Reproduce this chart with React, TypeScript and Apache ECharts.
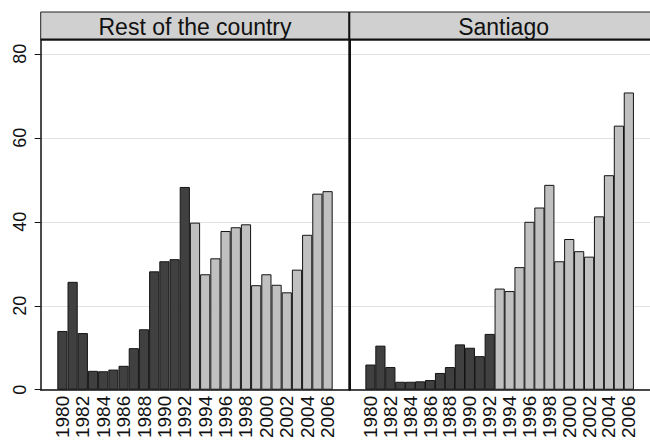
import React, { useEffect, useRef } from "react";
import * as echarts from "echarts";

const years = [1980, 1981, 1982, 1983, 1984, 1985, 1986, 1987, 1988, 1989, 1990, 1991, 1992, 1993, 1994, 1995, 1996, 1997, 1998, 1999, 2000, 2001, 2002, 2003, 2004, 2005, 2006];
const restOfCountry = [14.0, 25.7, 13.5, 4.5, 4.4, 4.8, 5.7, 9.9, 14.4, 28.2, 30.6, 31.1, 48.3, 39.8, 27.5, 31.3, 37.8, 38.7, 39.4, 24.9, 27.5, 25.0, 23.2, 28.6, 36.9, 46.7, 47.3];
const santiago = [6.0, 10.5, 5.4, 1.9, 1.9, 2.0, 2.3, 4.0, 5.4, 10.8, 10.0, 8.0, 13.3, 24.1, 23.5, 29.2, 40.0, 43.4, 48.8, 30.6, 35.9, 33.0, 31.7, 41.3, 51.1, 62.9, 70.8];
const panelTitles = ["Rest of the country", "Santiago"];
const xLabelYears = [1980, 1982, 1984, 1986, 1988, 1990, 1992, 1994, 1996, 1998, 2000, 2002, 2004, 2006];
const yTicks = [0, 20, 40, 60, 80];
const lastDarkYear = 1992;

export default function App() {
  const ref = useRef<HTMLDivElement>(null);
  useEffect(() => {
    document.body.style.margin = "0";
    if (!ref.current) return;
    const chart = echarts.init(ref.current, null, { renderer: "svg" });
    const panelLeft = [40.7, 349.3];
    const panelWidth = 308.6;
    const top = 40;
    const plotHeight = 350;
    const stripTop = 12;
    const xMin = 1977.87;
    const xMax = 2008.13;
    const barW = panelWidth / (xMax - xMin);
    const font = "Liberation Sans, Arial, Helvetica, sans-serif";
    const dataSets = [restOfCountry, santiago];

    const grids = panelLeft.map((l) => ({ left: l, top, width: panelWidth, height: plotHeight }));
    const xAxes = panelLeft.map((_, i) => ({
      type: "value",
      gridIndex: i,
      min: xMin,
      max: xMax,
      axisLine: { show: true, onZero: false, lineStyle: { color: "#111", width: 1.5 } },
      axisTick: { show: false },
      splitLine: { show: false },
      axisLabel: {
        customValues: xLabelYears,
        formatter: (v: number) => String(v),
        rotate: 90,
        fontSize: 19,
        color: "#111",
        fontFamily: font,
        margin: 6,
      },
    }));
    const yAxes = panelLeft.map((_, i) => ({
      type: "value",
      gridIndex: i,
      min: 0,
      max: 83.3,
      interval: 20,
      axisLine: { show: true, lineStyle: { color: "#111", width: i === 0 ? 1.5 : 2 } },
      axisTick: { show: i === 0, length: 6, customValues: yTicks, lineStyle: { color: "#111" } },
      splitLine: { show: true, lineStyle: { color: "#e2e2e2", width: 1 } },
      axisLabel: {
        show: i === 0,
        customValues: yTicks,
        formatter: (v: number) => String(v),
        rotate: 90,
        fontSize: 18,
        color: "#111",
        fontFamily: font,
        margin: 12,
      },
    }));
    const series = dataSets.map((vals, i) => ({
      type: "bar",
      xAxisIndex: i,
      yAxisIndex: i,
      barWidth: barW,
      itemStyle: { borderColor: "#141414", borderWidth: 1 },
      data: years.map((y, j) => ({
        value: [y, vals[j]],
        itemStyle: { color: y <= lastDarkYear ? "#404040" : "#c0c0c0" },
      })),
    }));
    const graphic: any[] = [];
    panelLeft.forEach((l, i) => {
      graphic.push({
        type: "rect",
        shape: { x: l, y: stripTop, width: panelWidth, height: top - stripTop },
        style: { fill: "#d0d0d0", stroke: "#222", lineWidth: 1 },
        z: 10,
      });
      graphic.push({
        type: "text",
        x: l + panelWidth / 2,
        y: stripTop + (top - stripTop) / 2 + 1,
        style: {
          text: panelTitles[i],
          fontSize: 23,
          fontFamily: font,
          fill: "#111",
          textAlign: "center",
          textVerticalAlign: "middle",
        },
        z: 11,
      });
    });
    graphic.push({
      type: "line",
      shape: { x1: panelLeft[0], y1: top - 0.5, x2: 660, y2: top - 0.5 },
      style: { stroke: "#111", lineWidth: 2 },
      z: 12,
    });
    graphic.push({
      type: "line",
      shape: { x1: panelLeft[1], y1: stripTop, x2: panelLeft[1], y2: top + plotHeight },
      style: { stroke: "#111", lineWidth: 2 },
      z: 12,
    });

    chart.setOption({
      animation: false,
      backgroundColor: "#fff",
      grid: grids,
      xAxis: xAxes,
      yAxis: yAxes,
      series,
      graphic,
    });
    return () => chart.dispose();
  }, []);
  return <div ref={ref} style={{ width: 650, height: 441 }} />;
}
